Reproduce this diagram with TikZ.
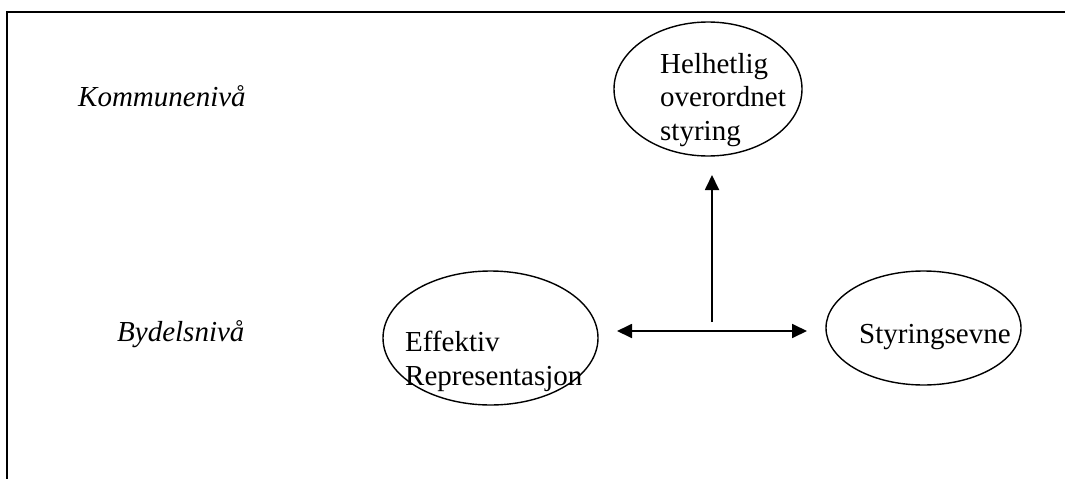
\documentclass[tikz,border=0pt]{standalone}
\usepackage{fontspec}
\setmainfont{Liberation Serif}
\usetikzlibrary{shapes.geometric,arrows.meta}
\begin{document}
\begin{tikzpicture}[x=1pt,y=-1pt,
  oval/.style={draw,ellipse,line width=1.4pt,inner sep=0pt},
  txt/.style={inner sep=0pt,anchor=base west,align=left,font=\fontsize{29}{33.5}\selectfont},
  lvl/.style={inner sep=0pt,anchor=base west,font=\fontsize{29}{33.5}\selectfont\itshape},
  arr/.style={line width=1.8pt,-{Triangle[length=15pt,width=14pt]}},
  darr/.style={line width=1.8pt,{Triangle[length=15pt,width=14pt]}-{Triangle[length=15pt,width=14pt]}}]
\useasboundingbox (0,0) rectangle (1065,479);
% frame
\draw[line width=2.4pt] (1065,12) -- (7,12) -- (7,479);
% ellipses
\node[oval,minimum width=188pt,minimum height=134pt] (top) at (708,89) {};
\node[oval,minimum width=215pt,minimum height=134pt] (left) at (490.5,338) {};
\node[oval,minimum width=195pt,minimum height=114pt] (right) at (923.5,328) {};
% texts (base anchor = baseline of last line)
\node[txt] (toptext) at (660,140) {Helhetlig\\overordnet\\styring};
\node[txt] (lefttext) at (405,385) {Effektiv\\Representasjon};
\node[txt] (righttext) at (859,343) {Styringsevne};
\node[lvl] (kommune) at (78,106) {Kommunenivå};
\node[lvl] (bydel) at (117,341) {Bydelsnivå};
% connectors
\coordinate (hl) at (617,331);
\coordinate (hr) at (807,331);
\coordinate (vb) at (712,322);
\coordinate (vt) at (712,175);
\draw[darr] (hl) -- (hr);
\draw[arr] (vb) -- (vt);
\end{tikzpicture}
\end{document}
